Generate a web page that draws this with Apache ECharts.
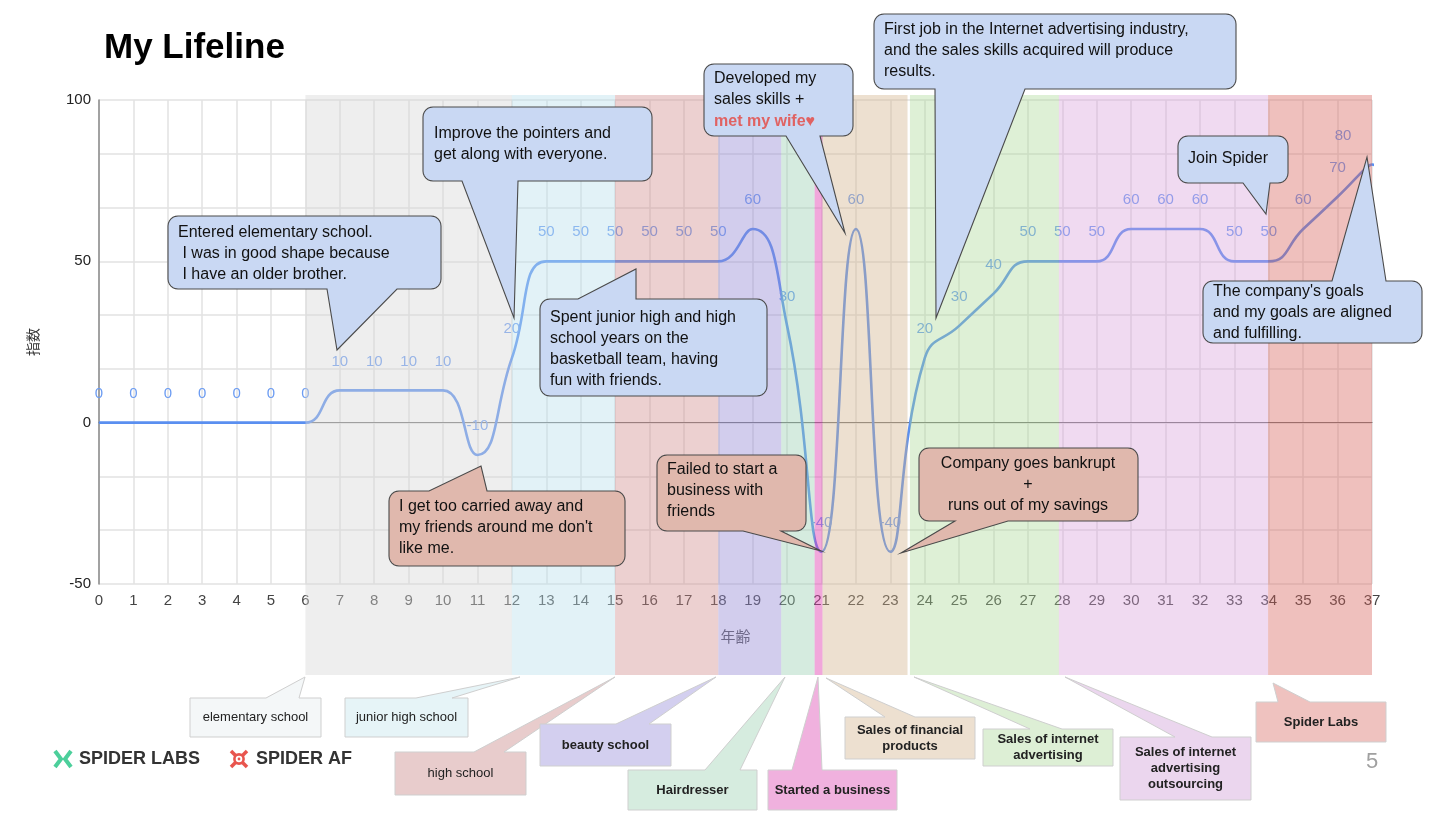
<!DOCTYPE html>
<html><head><meta charset="utf-8">
<script src="https://cdn.jsdelivr.net/npm/echarts@6/dist/echarts.min.js"></script>
<style>html,body{margin:0;padding:0;background:#fff}#c{width:1440px;height:819px}</style>
</head><body><div id="c"></div>
<script>
// ---------- data ----------
const ages = [0,1,2,3,4,5,6,7,8,9,10,11,12,13,14,15,16,17,18,19,20,21,22,23,24,25,26,27,28,29,30,31,32,33,34,35,36,37,38];
const lifeIndex = [0,0,0,0,0,0,0,10,10,10,10,-10,20,50,50,50,50,50,50,60,30,-40,60,-40,20,30,40,50,50,50,60,60,60,50,50,60,70,80,0];
const bandStart = [6, 12, 15, 18, 19.83, 20.8, 21.03, 23.57, 27.9, 33.98];
const bandEnd   = [12, 15, 18, 19.83, 20.8, 21.03, 23.5, 27.9, 33.98, 37];
const bandNames = ['elementary school','junior high school','high school','beauty school','Hairdresser','Started a business','Sales of financial\nproducts','Sales of internet\nadvertising','Sales of internet\nadvertising\noutsourcing','Spider Labs'];
const titleText = 'My Lifeline';
const xAxisName = '年齢';
const yAxisName = '指数';
const bubbleTexts = [
  'Entered elementary school.\n I was in good shape because\n I have an older brother.',
  'Improve the pointers and\nget along with everyone.',
  'Spent junior high and high\nschool years on the\nbasketball team, having\nfun with friends.',
  'Developed my\nsales skills +',
  'First job in the Internet advertising industry,\nand the sales skills acquired will produce\nresults.',
  'Join Spider',
  "The company's goals\nand my goals are aligned\nand fulfilling.",
  "I get too carried away and\nmy friends around me don't\nlike me.",
  'Failed to start a\nbusiness with\nfriends',
  'Company goes bankrupt\n+\nruns out of my savings'
];
const wifeText = 'met my wife♥';
const brandNames = ['SPIDER LABS','SPIDER AF'];
const pageNumber = '5';

// ---------- styles / layout ----------
const FONT = 'Liberation Sans, Arial, Helvetica, sans-serif';
const bandColors = ['rgba(215,215,215,0.42)','rgba(185,225,237,0.42)','rgba(207,137,137,0.4)','rgba(147,137,212,0.42)',
  'rgba(150,205,175,0.4)','rgba(225,60,175,0.45)','rgba(210,177,137,0.4)','rgba(167,215,147,0.38)','rgba(215,157,217,0.38)','rgba(215,97,90,0.4)'];
const boxColors = ['#f4f7f8','#e6f4f7','#e8cccc','#d3cfef','#d6ecdf','#f0b1de','#ede0d0','#ddefd5','#ebd6ee','#efc2bf'];
const boxBold = [false,false,false,true,true,true,true,true,true,true];
const BAND_TOP = 95, BAND_BOTTOM = 675;
const BLUE = '#c9d8f3', BROWN = '#e0b8ad';
// bubble layout: [x, y, w, h, side, b1, b2, tipX, tipY, fill, textX, firstLineY, align]
const bubbleLayout = [
  [168,216,273,73,'bottom',327,397,337,350,BLUE,178,233,'left'],
  [423,107,229,74,'bottom',462,518,514,318,BLUE,434,134,'left'],
  [540,299,227,97,'top',578,636,636,269,BLUE,550,318,'left'],
  [704,64,149,72,'bottom',786,820,845,233,BLUE,714,79,'left'],
  [874,14,362,75,'bottom',935,1025,936,318,BLUE,884,30,'left'],
  [1178,136,110,47,'bottom',1243,1270,1266,214,BLUE,1188,159,'left'],
  [1203,281,219,62,'top',1332,1386,1367,157,BLUE,1213,292,'left'],
  [389,491,236,75,'top',429,487,481,466,BROWN,399,507,'left'],
  [657,455,149,76,'bottom',743,781,821,551,BROWN,667,470,'left'],
  [919,448,219,73,'bottom',955,1008,901,553,BROWN,1028,464,'center']
];
// bottom label boxes: [x, y, w, h, b1, b2, tipX, tipY]
const boxLayout = [
  [190,698,131,39,266,299,305,677],
  [345,698,123,39,416,452,520,677],
  [395,752,131,43,474,504,615,677],
  [540,724,131,42,616,649,716,677],
  [628,770,129,40,705,740,785,677],
  [768,770,129,40,792,822,818,677],
  [845,717,130,42,885,915,826,678],
  [983,729,130,37,1030,1062,914,677],
  [1120,737,131,63,1175,1212,1065,677],
  [1256,702,130,40,1278,1310,1273,683]
];

function arc(pts, cx, cy, r, a0, a1){
  const n = 6;
  for (let k=0;k<=n;k++){ const a = a0 + (a1-a0)*k/n; pts.push([cx + r*Math.cos(a), cy + r*Math.sin(a)]); }
}
function bubblePoints(x,y,w,h,r,side,b1,b2,tx,ty){
  const P = Math.PI, pts = [];
  if (r>0) arc(pts, x+r, y+r, r, P, 1.5*P); else pts.push([x,y]);
  if (side==='top') { pts.push([b1,y]); pts.push([tx,ty]); pts.push([b2,y]); }
  if (r>0) arc(pts, x+w-r, y+r, r, 1.5*P, 2*P); else pts.push([x+w,y]);
  if (r>0) arc(pts, x+w-r, y+h-r, r, 0, 0.5*P); else pts.push([x+w,y+h]);
  if (side==='bottom') { pts.push([b2,y+h]); pts.push([tx,ty]); pts.push([b1,y+h]); }
  if (r>0) arc(pts, x+r, y+h-r, r, 0.5*P, P); else pts.push([x,y+h]);
  return pts;
}

const graphics = [];
bubbleLayout.forEach((b,i)=>{
  const [x,y,w,h,side,b1,b2,tx,ty,fill,textX,firstY,align] = b;
  graphics.push({type:'polygon', z:100, shape:{points: bubblePoints(x,y,w,h,10,side,b1,b2,tx,ty)},
    style:{fill, stroke:'#4a4a4a', lineWidth:1.1}});
  graphics.push({type:'text', z:101, x:textX, y:firstY-10.5,
    style:{text:bubbleTexts[i], fill:'#111', fontSize:16, fontFamily:FONT, lineHeight:21, align, verticalAlign:'top'}});
});
graphics.push({type:'text', z:101, x:714, y:122-10.5,
  style:{text:wifeText, fill:'#e06262', fontSize:16, fontWeight:'bold', fontFamily:FONT, lineHeight:21, verticalAlign:'top'}});
boxLayout.forEach((b,i)=>{
  const [x,y,w,h,b1,b2,tx,ty] = b;
  graphics.push({type:'polygon', z:100, shape:{points: bubblePoints(x,y,w,h,0,'top',b1,b2,tx,ty)},
    style:{fill:boxColors[i], stroke:'#cfcfcf', lineWidth:1}});
  graphics.push({type:'text', z:101, x:x+w/2, y:y+h/2,
    style:{text:bandNames[i], fill:'#222', fontSize:13, fontWeight: boxBold[i]?'bold':'normal', fontFamily:FONT,
      lineHeight:16, align:'center', verticalAlign:'middle'}});
});
graphics.push({type:'polyline', z:100, shape:{points:[[55,751],[61,759],[55,767]]}, style:{stroke:'#4ccf9b', lineWidth:4, fill:null}});
graphics.push({type:'polyline', z:100, shape:{points:[[71,751],[65,759],[71,767]]}, style:{stroke:'#4ccf9b', lineWidth:4, fill:null}});
graphics.push({type:'text', z:100, x:79, y:759, style:{text:brandNames[0], fill:'#333', fontSize:18, fontWeight:'bold', fontFamily:FONT, verticalAlign:'middle'}});
graphics.push({type:'line', z:100, shape:{x1:231,y1:751,x2:247,y2:767}, style:{stroke:'#e8554e', lineWidth:3.5}});
graphics.push({type:'line', z:100, shape:{x1:247,y1:751,x2:231,y2:767}, style:{stroke:'#e8554e', lineWidth:3.5}});
graphics.push({type:'circle', z:101, shape:{cx:239,cy:759,r:4.6}, style:{fill:'#fff', stroke:'#e8554e', lineWidth:2.6}});
graphics.push({type:'circle', z:102, shape:{cx:239,cy:759,r:1.4}, style:{fill:'#e8554e'}});
graphics.push({type:'text', z:100, x:256, y:759, style:{text:brandNames[1], fill:'#333', fontSize:18, fontWeight:'bold', fontFamily:FONT, verticalAlign:'middle'}});
graphics.push({type:'text', z:100, x:1372, y:762, style:{text:pageNumber, fill:'#a0a0a0', fontSize:22, fontFamily:FONT, align:'center', verticalAlign:'middle'}});

const lineData = ages.map((a,i)=>{
  const item = {value:[a, lifeIndex[i]]};
  if (i === ages.length-1) item.label = {show:false};
  if (i === ages.length-2) item.label = {offset:[-29,0]};
  return item;
});

const chart = echarts.init(document.getElementById('c'), null, {renderer:'canvas'});
chart.setOption({
  animation:false,
  backgroundColor:'#fff',
  title:{text:titleText, left:104, top:31, padding:0,
    textStyle:{fontSize:35, fontWeight:'bold', color:'#000', fontFamily:FONT}},
  grid:{left:99, right:68, top:100, bottom:235, containLabel:false},
  xAxis:[{type:'value', min:0, max:37, interval:1,
    name:xAxisName, nameLocation:'middle', nameGap:45,
    nameTextStyle:{fontSize:15, color:'#555', fontFamily:'Noto Sans CJK JP'},
    axisLine:{show:false, onZero:false}, axisTick:{show:false},
    axisLabel:{fontSize:15, color:'#444', margin:9, fontFamily:FONT},
    splitLine:{show:true, lineStyle:{color:'#e2e2e2', width:1.5}}},
   {type:'value', min:0, max:37, interval:1, position:'top',
    axisLine:{show:true, onZero:true, lineStyle:{color:'#777', width:1.2}},
    axisTick:{show:false}, axisLabel:{show:false}, splitLine:{show:false}}],
  yAxis:{type:'value', min:-50, max:100, interval:50,
    name:yAxisName, nameLocation:'middle', nameGap:59,
    nameTextStyle:{fontSize:14, color:'#333', fontFamily:'Noto Sans CJK JP'},
    axisLine:{show:true, lineStyle:{color:'#8a8a8a', width:1.5}}, axisTick:{show:false},
    axisLabel:{fontSize:15, color:'#222', margin:8, fontFamily:FONT},
    splitLine:{show:true, lineStyle:{color:'#e2e2e2', width:1.5}},
    minorTick:{show:false, splitNumber:3},
    minorSplitLine:{show:true, lineStyle:{color:'#e2e2e2', width:1.5}}},
  series:[
    {type:'line', z:2, xAxisIndex:0, data:lineData, smooth:true, clip:true,
      symbol:'circle', symbolSize:1, showSymbol:true,
      itemStyle:{color:'#5a8ff0'},
      lineStyle:{color:'#5a8ff0', width:2.6},
      label:{show:true, position:'top', distance:21, color:'#6c9cf2', fontSize:15, fontFamily:FONT,
        formatter:(p)=>String(p.value[1])}},
    {type:'custom', z:5, xAxisIndex:0, clip:false, silent:true,
      data: bandStart.map((s,i)=>[s, bandEnd[i]]),
      encode:{x:[0,1]},
      renderItem:(params, api)=>{
        const s = api.coord([api.value(0), 0]);
        const e = api.coord([api.value(1), 0]);
        return {type:'rect', shape:{x:s[0], y:BAND_TOP, width:e[0]-s[0], height:BAND_BOTTOM-BAND_TOP},
          style:{fill:bandColors[params.dataIndex]}};
      }}
  ],
  graphic:{elements:graphics}
});
</script></body></html>
